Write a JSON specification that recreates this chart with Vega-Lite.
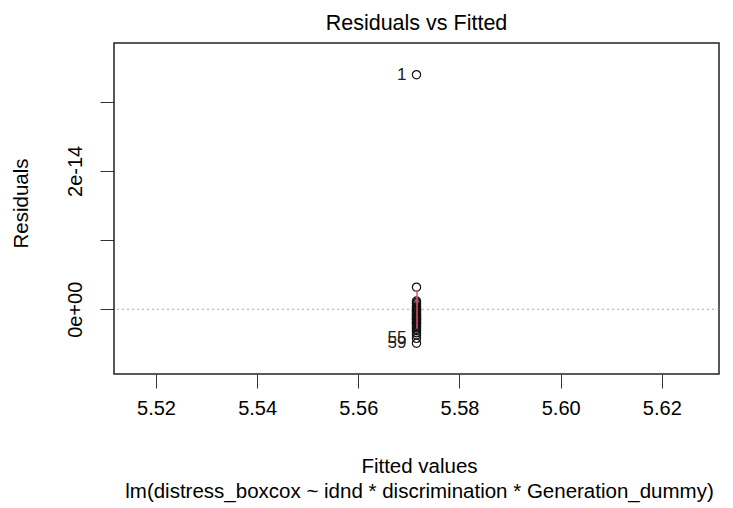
{
  "$schema": "https://vega.github.io/schema/vega-lite/v6.json",
  "width": 605,
  "height": 331,
  "autosize": "none",
  "padding": {"left": 114, "top": 43, "right": 14, "bottom": 134},
  "background": "white",
  "config": {
    "font": "Liberation Sans",
    "view": {"stroke": "#222222", "strokeWidth": 1.5},
    "axis": {"grid": false, "domain": false, "tickColor": "#333333", "tickSize": 14, "labelColor": "black", "titleColor": "black", "labelFontSize": 20, "titleFontSize": 20.5, "titleFontWeight": "normal", "labelOverlap": false, "labelFlush": false}
  },
  "title": {"text": "Residuals vs Fitted", "fontSize": 21.5, "fontWeight": "normal", "color": "black", "anchor": "middle", "offset": 9},
  "datasets": {
    "pts": [
      {"fitted": 5.5715, "resid": 3.39e-14, "label": "1"},
      {"fitted": 5.5715, "resid": 3.2e-15, "label": null},
      {"fitted": 5.5715, "resid": 1.2e-15, "label": null},
      {"fitted": 5.5715, "resid": 1e-15, "label": null},
      {"fitted": 5.5715, "resid": 8e-16, "label": null},
      {"fitted": 5.5715, "resid": 5e-16, "label": null},
      {"fitted": 5.5715, "resid": 3e-16, "label": null},
      {"fitted": 5.5715, "resid": 2e-16, "label": null},
      {"fitted": 5.5715, "resid": 0, "label": null},
      {"fitted": 5.5715, "resid": -1e-16, "label": null},
      {"fitted": 5.5715, "resid": -2e-16, "label": null},
      {"fitted": 5.5715, "resid": -3e-16, "label": null},
      {"fitted": 5.5715, "resid": -5e-16, "label": null},
      {"fitted": 5.5715, "resid": -6e-16, "label": null},
      {"fitted": 5.5715, "resid": -8e-16, "label": null},
      {"fitted": 5.5715, "resid": -9e-16, "label": null},
      {"fitted": 5.5715, "resid": -1e-15, "label": null},
      {"fitted": 5.5715, "resid": -1.1e-15, "label": null},
      {"fitted": 5.5715, "resid": -1.3e-15, "label": null},
      {"fitted": 5.5715, "resid": -1.4e-15, "label": null},
      {"fitted": 5.5715, "resid": -1.5e-15, "label": null},
      {"fitted": 5.5715, "resid": -1.6e-15, "label": null},
      {"fitted": 5.5715, "resid": -1.8e-15, "label": null},
      {"fitted": 5.5715, "resid": -1.9e-15, "label": null},
      {"fitted": 5.5715, "resid": -2e-15, "label": null},
      {"fitted": 5.5715, "resid": -2.1e-15, "label": null},
      {"fitted": 5.5715, "resid": -2.3e-15, "label": null},
      {"fitted": 5.5715, "resid": -2.5e-15, "label": null},
      {"fitted": 5.5715, "resid": -2.7e-15, "label": null},
      {"fitted": 5.5715, "resid": -2.9e-15, "label": null},
      {"fitted": 5.5715, "resid": -3.1e-15, "label": null},
      {"fitted": 5.5715, "resid": -3.4e-15, "label": null},
      {"fitted": 5.5715, "resid": -3.7e-15, "label": null},
      {"fitted": 5.5715, "resid": -4.2e-15, "label": "55"},
      {"fitted": 5.5715, "resid": -4.9e-15, "label": "59"}
    ],
    "smooth": [
      {"fitted": 5.5716, "resid": 2.8e-15, "ord": 1},
      {"fitted": 5.5716, "resid": 0, "ord": 2},
      {"fitted": 5.5716, "resid": -2.8e-15, "ord": 3}
    ],
    "zero": [{"resid": 0}]
  },
  "layer": [
    {
      "data": {"name": "zero"},
      "mark": {"type": "rule", "color": "#aaaaaa", "strokeDash": [2, 3], "strokeWidth": 1},
      "encoding": {
        "y": {"field": "resid", "type": "quantitative", "scale": {"domain": [-9.35e-15, 3.848e-14], "nice": false, "zero": false}}
      }
    },
    {
      "data": {"name": "pts"},
      "mark": {"type": "point", "shape": "circle", "filled": false, "stroke": "#111111", "strokeWidth": 1.2, "size": 68, "opacity": 1},
      "encoding": {
        "x": {
          "field": "fitted", "type": "quantitative",
          "scale": {"domain": [5.5117, 5.6313], "nice": false, "zero": false},
          "axis": {
            "values": [5.52, 5.54, 5.56, 5.58, 5.60, 5.62],
            "format": ".2f",
            "labelPadding": 10,
            "labelBaseline": "top",
            "title": ["Fitted values", "lm(distress_boxcox ~ idnd * discrimination * Generation_dummy)"],
            "titleLineHeight": 25,
            "titleBaseline": "top",
            "titleX": 305,
            "titleY": 82,
            "titleAnchor": "middle",
            "titleAlign": "center"
          }
        },
        "y": {
          "field": "resid", "type": "quantitative",
          "scale": {"domain": [-9.35e-15, 3.848e-14], "nice": false, "zero": false},
          "axis": {
            "values": [0, 1e-14, 2e-14, 3e-14],
            "labelExpr": "datum.value == 0 ? '0e+00' : (abs(datum.value - 2e-14) < 1e-16 ? '2e-14' : '')",
            "labelAngle": -90,
            "labelAlign": "center",
            "labelBaseline": "alphabetic",
            "labelPadding": 19,
            "title": "Residuals",
            "titleAngle": -90,
            "titleX": -93,
            "titleY": 160,
            "titleBaseline": "middle",
            "titleAlign": "center"
          }
        }
      }
    },
    {
      "data": {"name": "smooth"},
      "mark": {"type": "line", "color": "#DF536B", "strokeWidth": 1.5},
      "encoding": {
        "x": {"field": "fitted", "type": "quantitative"},
        "y": {"field": "resid", "type": "quantitative"},
        "order": {"field": "ord", "type": "quantitative"}
      }
    },
    {
      "data": {"name": "pts"},
      "transform": [{"filter": "datum.label != null"}],
      "mark": {"type": "text", "align": "right", "baseline": "middle", "dx": -10, "fontSize": 17, "color": "#222222"},
      "encoding": {
        "x": {"field": "fitted", "type": "quantitative"},
        "y": {"field": "resid", "type": "quantitative"},
        "text": {"field": "label", "type": "nominal"}
      }
    }
  ]
}
